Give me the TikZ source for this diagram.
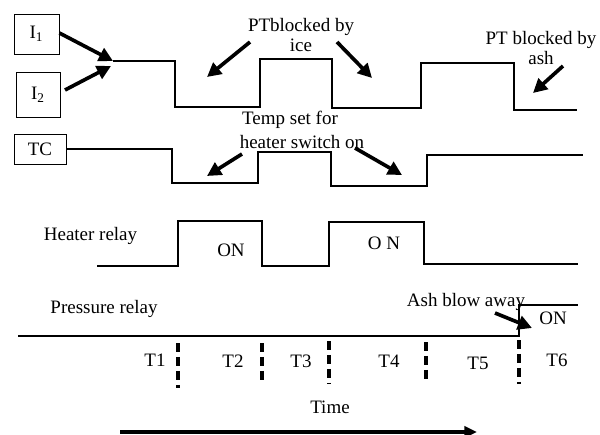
\documentclass[tikz,border=0pt]{standalone}
\usepackage{fontspec}
\setmainfont{Liberation Serif}
\usetikzlibrary{arrows.meta,positioning}

\tikzset{
    lbl/.style={font=\fontsize{13.5}{14.5}\selectfont, inner sep=0pt, align=center},
    inbox/.style={draw, line width=0.6pt, font=\fontsize{13.5}{14.5}\selectfont, inner sep=0pt},
    signal/.style={line width=1.3pt, line join=miter},
    pointer/.style={line width=2.6pt, -{Triangle[length=10pt,width=10pt]}},
    phase/.style={line width=2.4pt, dash pattern=on 6.4pt off 3.5pt}
}

\begin{document}
\begin{tikzpicture}[x=0.025cm, y=-0.025cm]
    \useasboundingbox (0,0) rectangle (600,435);

    % Input boxes
    \node[inbox, minimum width=1.125cm, minimum height=1cm] (I1) at (36.5,34) {I\textsubscript{1}};
    \node[inbox, minimum width=1.1cm, minimum height=1.125cm] (I2) at (38,94.5) {I\textsubscript{2}};
    \node[inbox, minimum width=1.3cm, minimum height=0.75cm] (TC) at (40,149) {TC};

    % PT signal
    \coordinate (ptstart) at (113,61);
    \draw[pointer] (I1.east) ++(0,-1) -- (ptstart);
    \draw[pointer] (65,90) coordinate (i2tail) -- (111,66) coordinate (i2head);
    \draw[signal] (ptstart) -- (175,61) -- (175,107) -- (260,107) -- (260,59)
        -- (332,59) -- (332,108) -- (421,108) -- (421,63) -- (514,63)
        -- (514,110) -- (577,110);

    % TC signal
    \draw[signal] (TC.east) -- (172,149) -- (172,183) -- (258,183) -- (258,152)
        -- (331,152) -- (331,186) -- (427,186) -- (427,155) -- (583,155);

    % Heater relay
    \node[lbl] (heater) at (90.5,236) {Heater relay};
    \draw[signal] (97,266) -- (178,266) -- (178,221) -- (262,221) -- (262,266)
        -- (329,266) -- (329,222) -- (424,222) -- (424,264) -- (578,264);
    \node[lbl] (on1) at (231,250) {ON};
    \node[lbl] (on2) at (384,243) {O N};

    % Pressure relay
    \node[lbl] (pressure) at (104,309) {Pressure relay};
    \draw[signal] (18,336) -- (519,336) -- (519,305) -- (578,305);
    \node[lbl] (on3) at (553,318) {ON};

    % Annotations
    \node[lbl] (ice) at (301,35) {PTblocked by\\ice};
    \node[lbl] (ash) at (541,48) {PT blocked by\\ash};
    \node[lbl] (temp) at (290,120) {Temp set for};
    \node[lbl] (switch) at (302,142) {heater switch on};
    \node[lbl] (blow) at (466,302) {Ash blow away};

    \foreach \a/\b in {{(250,42)}/{(207,77)}, {(337,42)}/{(372,78)},
                       {(563,66)}/{(533,93)}, {(242,154)}/{(207,176)},
                       {(355,148)}/{(402,175)}, {(495,313)}/{(532,328)}} {
        \draw[pointer] \a -- \b;
    }

    % Phase boundaries
    \foreach \x/\ya/\yb in {178/343/388, 262/343/380, 329/341/383, 426/342/381, 519/340/384} {
        \draw[phase] (\x,\ya) -- (\x,\yb);
    }
    \foreach \t/\x/\y in {T1/155/360, T2/233/361, T3/301/361, T4/389/361, T5/478/363, T6/557/360} {
        \node[lbl] (\t) at (\x,\y) {\t};
    }

    % Time axis
    \node[lbl] (time) at (330,407) {Time};
    \coordinate (t0) at (120,432);
    \coordinate (t1) at (477,432);
    \draw[line width=2.4pt, -{Triangle[length=9pt,width=8pt]}] (t0) -- (t1);
\end{tikzpicture}
\end{document}
